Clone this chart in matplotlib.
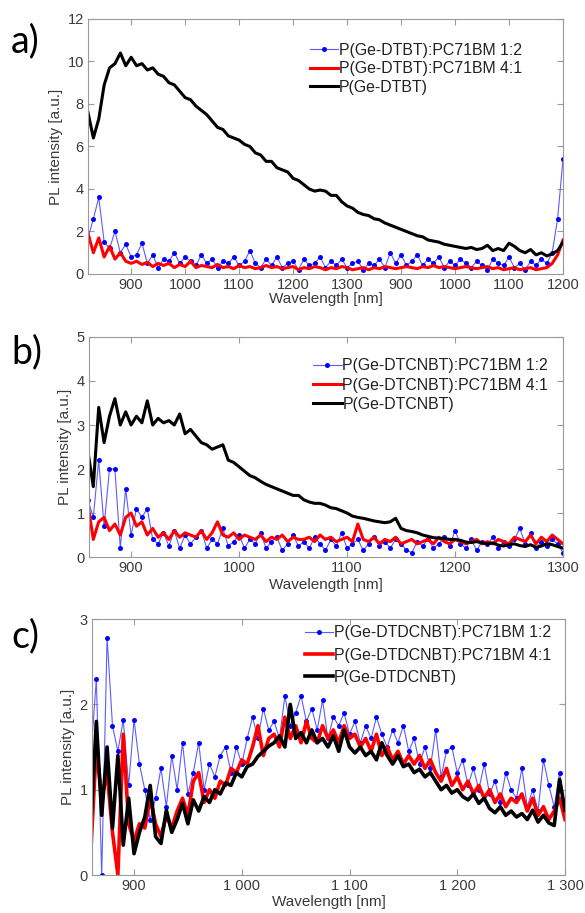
import numpy as np
import matplotlib.pyplot as plt

plt.rcParams['font.family'] = ['Liberation Sans', 'DejaVu Sans']

# ---- panel a : P(Ge-DTBT) ----
wl_a = np.arange(820, 1701, 10)
a_blend12 = [1.7, 2.6, 3.6, 1.5, 1.2, 2.0, 1.0, 1.4, 0.8, 0.9,
             1.45, 0.5, 0.9, 0.3, 0.7, 0.6, 1.0, 0.5, 0.8, 0.6,
             0.4, 0.9, 0.5, 0.7, 0.3, 0.6, 0.5, 0.8, 0.4, 0.6,
             1.1, 0.5, 0.3, 0.7, 0.4, 0.8, 0.3, 0.5, 0.6, 0.2,
             0.7, 0.4, 0.5, 0.8, 0.3, 0.6, 0.4, 0.7, 0.3, 0.5,
             0.6, 0.2, 0.5, 0.4, 0.7, 0.3, 1.0, 0.5, 0.9, 0.4,
             0.6, 0.9, 0.4, 0.7, 0.5, 0.8, 0.3, 0.6, 0.4, 0.7,
             0.5, 0.3, 0.6, 0.4, 0.2, 0.7, 0.5, 0.4, 0.8, 0.3,
             0.5, 0.2, 0.6, 0.4, 0.7, 0.5, 1.0, 2.6, 5.4]
a_blend41 = [1.9, 1.0, 1.7, 0.8, 1.3, 0.7, 1.0, 0.6, 0.5, 0.6,
             0.45, 0.55, 0.35, 0.5, 0.4, 0.5, 0.3, 0.45, 0.35, 0.6,
             0.3, 0.4, 0.35, 0.3, 0.45, 0.3, 0.35, 0.25, 0.4, 0.3,
             0.35, 0.25, 0.3, 0.4, 0.3, 0.35, 0.25, 0.3, 0.35, 0.2,
             0.3, 0.25, 0.35, 0.3, 0.2, 0.3, 0.25, 0.35, 0.3, 0.2,
             0.25, 0.3, 0.2, 0.3, 0.25, 0.35, 0.3, 0.25, 0.3, 0.35,
             0.3, 0.25, 0.35, 0.3, 0.4, 0.3, 0.35, 0.3, 0.25, 0.3,
             0.35, 0.3, 0.25, 0.3, 0.35, 0.25, 0.3, 0.2, 0.25, 0.3,
             0.2, 0.25, 0.3, 0.2, 0.25, 0.3, 0.5, 0.9, 1.6]
a_pure = [7.6, 6.4, 7.3, 8.9, 9.7, 9.9, 10.4, 9.8, 10.2, 9.8,
          9.9, 9.6, 9.7, 9.4, 9.3, 9.0, 8.9, 8.6, 8.3, 8.2,
          7.9, 7.7, 7.5, 7.2, 6.9, 6.8, 6.5, 6.4, 6.3, 6.1,
          6.0, 5.7, 5.6, 5.3, 5.3, 5.0, 4.9, 4.8, 4.5, 4.4,
          4.2, 4.0, 3.9, 3.95, 3.9, 3.7, 3.7, 3.4, 3.2, 3.1,
          2.9, 2.8, 2.75, 2.6, 2.55, 2.4, 2.3, 2.2, 2.1, 2.0,
          1.9, 1.8, 1.75, 1.6, 1.55, 1.5, 1.4, 1.35, 1.3, 1.25,
          1.2, 1.25, 1.15, 1.2, 1.35, 1.1, 1.2, 1.1, 1.45, 1.3,
          1.1, 1.0, 1.15, 0.9, 1.0, 0.85, 0.95, 1.1, 1.5]
a_labels = ['P(Ge-DTBT):PC71BM 1:2', 'P(Ge-DTBT):PC71BM 4:1', 'P(Ge-DTBT)']
a_xticks = [900, 1000, 1100, 1200, 1300, 1400, 1500, 1600, 1700]
a_xticklabels = ['900', '1000', '1100', '1200', '1300', '900', '1000', '1100', '1200']

# ---- panel b : P(Ge-DTCNBT) ----
wl_b = np.arange(860, 1301, 5)
b_blend12 = [1.3, 0.9, 2.2, 0.7, 2.0, 2.0, 0.2, 1.55, 0.5, 1.1,
             0.9, 1.1, 0.4, 0.3, 0.55, 0.25, 0.6, 0.2, 0.5, 0.3,
             0.45, 0.6, 0.2, 0.4, 0.3, 0.65, 0.25, 0.35, 0.5, 0.2,
             0.4, 0.3, 0.55, 0.2, 0.35, 0.45, 0.15, 0.3, 0.5, 0.25,
             0.35, 0.2, 0.45, 0.3, 0.15, 0.4, 0.25, 0.55, 0.2, 0.3,
             0.4, 0.15, 0.3, 0.45, 0.25, 0.35, 0.2, 0.4, 0.3, 0.15,
             0.1, 0.35, 0.25, 0.4, 0.2, 0.3, 0.45, 0.25, 0.6, 0.3,
             0.2, 0.4, 0.15, 0.35, 0.3, 0.45, 0.2, 0.35, 0.25, 0.4,
             0.65, 0.3, 0.55, 0.2, 0.35, 0.25, 0.4, 0.3, 0.1]
b_blend41 = [1.2, 0.4, 0.8, 0.9, 0.6, 0.75, 0.5, 0.9, 1.0, 0.7,
             0.8, 0.5, 0.65, 0.45, 0.55, 0.4, 0.6, 0.45, 0.55, 0.5,
             0.45, 0.6, 0.4, 0.55, 0.8, 0.5, 0.45, 0.55, 0.4, 0.5,
             0.45, 0.4, 0.5, 0.35, 0.45, 0.4, 0.5, 0.35, 0.45, 0.4,
             0.4, 0.45, 0.35, 0.5, 0.4, 0.45, 0.35, 0.4, 0.45, 0.35,
             0.75, 0.4, 0.35, 0.45, 0.3, 0.4, 0.35, 0.45, 0.3, 0.35,
             0.4, 0.3, 0.35, 0.4, 0.3, 0.45, 0.35, 0.3, 0.4, 0.35,
             0.3, 0.35, 0.4, 0.3, 0.35, 0.3, 0.4, 0.35, 0.3, 0.45,
             0.4, 0.35, 0.5, 0.3, 0.45, 0.35, 0.5, 0.4, 0.3]
b_pure = [2.4, 1.6, 3.4, 2.6, 3.2, 3.6, 3.0, 3.3, 3.0, 3.2,
          3.05, 3.55, 3.0, 3.15, 3.05, 3.1, 3.0, 3.25, 2.8, 2.9,
          2.75, 2.6, 2.55, 2.45, 2.5, 2.55, 2.2, 2.15, 2.05, 1.95,
          1.85, 1.8, 1.72, 1.65, 1.6, 1.55, 1.5, 1.45, 1.4, 1.4,
          1.3, 1.25, 1.22, 1.22, 1.18, 1.12, 1.1, 1.05, 1.0, 0.93,
          0.9, 0.88, 0.85, 0.82, 0.8, 0.78, 0.8, 0.88, 0.65, 0.6,
          0.58, 0.55, 0.5, 0.47, 0.44, 0.43, 0.42, 0.4, 0.4, 0.38,
          0.34, 0.33, 0.35, 0.32, 0.3, 0.32, 0.27, 0.25, 0.28, 0.3,
          0.26, 0.24, 0.28, 0.22, 0.25, 0.3, 0.28, 0.24, 0.2]
b_labels = ['P(Ge-DTCNBT):PC71BM 1:2', 'P(Ge-DTCNBT):PC71BM 4:1', 'P(Ge-DTCNBT)']
b_xticks = [900, 1000, 1100, 1200, 1300]
b_xticklabels = ['900', '1000', '1100', '1200', '1300']

# ---- panel c : P(Ge-DTDCNBT) ----
wl_c = np.arange(860, 1301, 5)
c_blend12 = [1.4, 2.3, 0.0, 2.78, 1.75, 1.45, 1.82, 1.05, 1.82, 1.3,
             1.0, 0.65, 0.9, 1.25, 0.8, 1.4, 1.0, 1.55, 0.95, 1.2,
             1.55, 1.0, 1.3, 1.15, 1.4, 1.5, 1.2, 1.5, 1.3, 1.6,
             1.85, 1.6, 1.95, 1.7, 1.8, 1.6, 2.1, 1.75, 1.9, 2.1,
             1.8, 1.95, 1.7, 2.05, 1.6, 1.85, 1.75, 1.9, 1.65, 1.8,
             1.55, 1.75, 1.6, 1.85, 1.65, 1.5, 1.7, 1.55, 1.75, 1.45,
             1.6, 1.3, 1.5, 1.25, 1.7, 1.15, 1.45, 1.5, 1.2, 1.35,
             1.05, 1.25, 1.0, 1.3, 0.95, 1.1, 0.85, 1.2, 1.0, 0.9,
             1.25, 0.8, 1.0, 0.75, 1.35, 1.05, 0.8, 1.2, 0.8]
c_blend41 = [0.3, 1.5, 0.9, 1.2, 0.5, 0.0, 1.65, 0.6, 0.4, 0.6,
             0.55, 0.9, 0.6, 0.45, 0.7, 0.55, 0.75, 0.9, 0.7, 1.1,
             1.2, 0.85, 1.0, 0.9, 1.1, 1.05, 1.25, 1.2, 1.35, 1.3,
             1.5, 1.75, 1.4, 1.6, 1.65, 1.5, 1.85, 1.6, 1.75, 1.55,
             1.8, 1.6, 1.55, 1.75, 1.6, 1.7, 1.55, 1.75, 1.6, 1.65,
             1.5, 1.6, 1.45, 1.65, 1.4, 1.5, 1.35, 1.45, 1.3, 1.4,
             1.3, 1.4, 1.25, 1.35, 1.2, 1.1, 1.25, 1.05, 1.15, 1.0,
             1.1, 0.95, 1.05, 0.9, 1.0, 0.85, 0.95, 0.8, 0.9, 0.85,
             0.95, 0.75, 0.9, 0.7, 0.8, 0.65, 0.75, 0.9, 0.65]
c_pure = [0.6, 1.8, 0.7, 1.5, 0.55, 1.4, 0.35, 0.9, 0.25, 0.5,
          0.68, 1.05, 0.45, 0.37, 0.76, 0.5, 0.65, 0.84, 0.6, 0.88,
          0.75, 0.92, 0.85, 1.0, 0.95, 1.08, 1.05, 1.2, 1.15, 1.27,
          1.3, 1.39, 1.45, 1.51, 1.55, 1.63, 1.5, 2.0, 1.6, 1.67,
          1.55, 1.7, 1.55, 1.6, 1.5, 1.63, 1.45, 1.7, 1.5, 1.43,
          1.5, 1.4, 1.45, 1.35, 1.55, 1.4, 1.3, 1.4, 1.27, 1.3,
          1.2, 1.24, 1.15, 1.2, 1.1, 1.0, 1.05, 0.96, 1.0, 0.92,
          0.88, 0.95, 0.84, 0.9, 0.78, 0.73, 0.8, 0.7, 0.75, 0.68,
          0.72, 0.65, 0.76, 0.62, 0.7, 0.61, 0.58, 1.12, 0.76]
c_labels = ['P(Ge-DTDCNBT):PC71BM 1:2', 'P(Ge-DTDCNBT):PC71BM 4:1', 'P(Ge-DTDCNBT)']
c_xticks = [900, 1000, 1100, 1200, 1300]
c_xticklabels = ['900', '1 000', '1 100', '1 200', '1 300']

txt = '#3a3a3a'
spine = '#9a9a9a'
fs = 11

fig = plt.figure(figsize=(5.85, 9.13), dpi=100)


def panel(rect, wl, blue, red, black, labels, xlim, ylim, yticks, xticks, xticklabels,
          leg_anchor, leg_space, xpad, lw=2.2):
    ax = fig.add_axes(rect)
    ax.plot(wl, blue, color='#5c5cff', lw=0.8, marker='o', ms=3.6, mew=0,
            mfc='#0000ff', label=labels[0])
    ax.plot(wl, red, color='#ff0000', lw=lw, label=labels[1])
    ax.plot(wl, black, color='#000000', lw=lw, label=labels[2])
    ax.set_xlim(xlim)
    ax.set_ylim(ylim)
    ax.set_yticks(yticks)
    ax.set_xticks(xticks)
    ax.set_xticklabels(xticklabels)
    ax.tick_params(direction='in', top=True, right=True, length=4, width=0.8,
                   color=spine, labelcolor=txt, labelsize=fs - 0.5, pad=3)
    for s in ax.spines.values():
        s.set_color(spine)
        s.set_linewidth(0.8)
    ax.set_xlabel('Wavelength [nm]', color=txt, fontsize=fs, labelpad=xpad)
    ax.set_ylabel('PL intensity [a.u.]', color=txt, fontsize=fs, labelpad=3)
    leg = ax.legend(loc='upper left', bbox_to_anchor=leg_anchor, frameon=False,
                    fontsize=fs + 0.4, handlelength=1.8, handletextpad=0.05, numpoints=1,
                    borderaxespad=0, borderpad=0, labelspacing=leg_space)
    for t in leg.get_texts():
        t.set_color('#222222')
    return ax


panel([0.1504, 0.6999, 0.812, 0.2793], wl_a, a_blend12, a_blend41, a_pure, a_labels,
      (820, 1700), (0, 12), [0, 2, 4, 6, 8, 10, 12], a_xticks, a_xticklabels,
      (0.467, 0.906), 0.22, 0)
panel([0.1521, 0.3899, 0.8103, 0.2410], wl_b, b_blend12, b_blend41, b_pure, b_labels,
      (861, 1300), (0, 5), [0, 1, 2, 3, 4, 5], b_xticks, b_xticklabels,
      (0.473, 0.903), 0.27, 2)
panel([0.1573, 0.0416, 0.8085, 0.2804], wl_c, c_blend12, c_blend41, c_pure, c_labels,
      (861, 1300), (0, 3), [0, 1, 2, 3], c_xticks, c_xticklabels,
      (0.45, 0.975), 0.46, 1, lw=2.6)

for lab, yy in [('a)', 41), ('b)', 352), ('c)', 636)]:
    fig.text(11 / 585, 1 - yy / 913, lab, fontsize=27, family='Lato', va='center', ha='left')

fig.savefig('out.png', dpi=100)
